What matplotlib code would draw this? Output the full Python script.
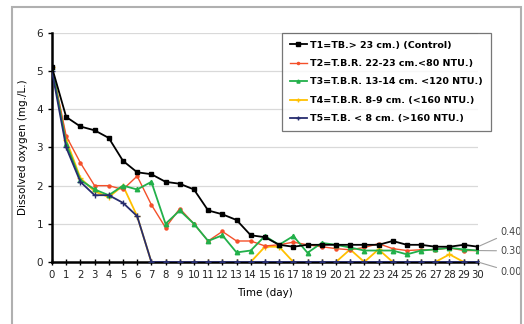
import matplotlib.pyplot as plt
import matplotlib.patches as mpatches
import numpy as np

plt.rcParams['font.family'] = 'DejaVu Sans'

# Days of measurement
days = list(range(31))

# Dissolved oxygen (mg./L.) per treatment
t1 = [5.1, 3.8, 3.55, 3.45, 3.25, 2.65, 2.35, 2.3, 2.1, 2.05, 1.9, 1.35, 1.25, 1.1, 0.7, 0.65,
      0.45, 0.4, 0.45, 0.45, 0.45, 0.45, 0.45, 0.45, 0.55, 0.45, 0.45, 0.4, 0.4, 0.45, 0.4]
t2 = [5.1, 3.3, 2.6, 2.0, 2.0, 1.9, 2.25, 1.5, 0.9, 1.4, 1.0, 0.55, 0.8, 0.55, 0.55, 0.42,
      0.45, 0.52, 0.45, 0.4, 0.35, 0.32, 0.38, 0.48, 0.35, 0.3, 0.32, 0.32, 0.37, 0.3, 0.3]
t3 = [5.1, 3.1, 2.15, 1.9, 1.75, 2.0, 1.9, 2.1, 1.0, 1.35, 1.0, 0.55, 0.7, 0.25, 0.3, 0.68,
      0.45, 0.68, 0.24, 0.5, 0.45, 0.38, 0.3, 0.3, 0.3, 0.2, 0.3, 0.33, 0.37, 0.33, 0.3]
t4 = [5.1, 3.2, 2.2, 1.85, 1.7, 2.0, 1.2, 0, 0, 0, 0, 0, 0, 0, 0, 0.4,
      0.4, 0, 0, 0, 0, 0.33, 0, 0.33, 0, 0, 0, 0, 0.2, 0, 0]
t5 = [5.0, 3.0, 2.1, 1.75, 1.75, 1.55, 1.2, 0, 0, 0, 0, 0, 0, 0, 0, 0,
      0, 0, 0, 0, 0, 0, 0, 0, 0, 0, 0, 0, 0, 0, 0]

labels = ['T1=TB.> 23 cm.) (Control)',
          'T2=T.B.R. 22-23 cm.<80 NTU.)',
          'T3=T.B.R. 13-14 cm. <120 NTU.)',
          'T4=T.B.R. 8-9 cm. (<160 NTU.)',
          'T5=T.B. < 8 cm. (>160 NTU.)']

end_labels = ['0.40', '0.30', '0.00']
end_values = [0.4, 0.3, 0.0]

fig = plt.figure(figsize=(5.24, 3.24), dpi=100, facecolor='white')
ax = fig.add_axes([0.0992, 0.1914, 0.8128, 0.7068])

# outer frame of the chart
fig.patches.append(mpatches.Rectangle((12 / 524, -0.1), 509 / 524, 1.1 - 7 / 324,
                                      transform=fig.transFigure, fill=False,
                                      edgecolor='#b0b0b0', linewidth=1.5))

ax.plot(days, t1, '-s', color='black', lw=1.3, ms=3.2, label=labels[0], zorder=6)
ax.plot(days, t2, '-o', color='#f4502a', lw=1.0, ms=2.2, label=labels[1], zorder=3)
ax.plot(days, t3, '-^', color='#22b04a', lw=1.3, ms=3.2, label=labels[2], zorder=4)
ax.plot(days, t4, '-+', color='#ffc000', lw=1.3, ms=4, mew=1, label=labels[3], zorder=2)
ax.plot(days, t5, '-+', color='#262c6e', lw=1.3, ms=5, mew=1, label=labels[4], zorder=5)

ax.set_xlim(0, 30)
ax.set_ylim(0, 6)
ax.set_xticks(days)
ax.set_yticks(range(7))
ax.tick_params(axis='x', direction='inout', length=5, width=1, labelsize=7.3, pad=3,
               labelcolor='#222222')
ax.tick_params(axis='y', direction='out', length=3, width=1, labelsize=7.5,
               labelcolor='#222222')
ax.grid(axis='y', color='#d9d9d9', lw=0.9)
ax.set_axisbelow(True)
for s in ['top', 'right']:
    ax.spines[s].set_visible(False)
ax.spines['left'].set_linewidth(1.8)
ax.spines['bottom'].set_linewidth(1.8)

ax.set_xlabel('Time (day)', fontsize=7.5, labelpad=6)
ax.set_ylabel('Dissolved oxygen (mg./L.)', fontsize=7.5, labelpad=6)

leg = ax.legend(loc='upper left', bbox_to_anchor=(0.54, 1.0), borderaxespad=0,
                prop={'weight': 'bold', 'size': 6.8}, frameon=True, fancybox=False,
                edgecolor='#555555', handlelength=1.9, borderpad=0.8, labelspacing=1.0,
                handletextpad=0.3, markerscale=0.7)
leg.get_frame().set_linewidth(0.9)

# end value callouts to the right of the plot
text_pos = [(31.6, 0.79), (31.6, 0.29), (31.6, -0.26)]
for lab, v, pos in zip(end_labels, end_values, text_pos):
    ax.annotate(lab, xy=(30, v), xytext=pos, fontsize=7, color='#444444',
                va='center', ha='left', annotation_clip=False,
                arrowprops=dict(arrowstyle='-', color='#a0a0a0', lw=0.8,
                                shrinkA=1, shrinkB=0))

plt.savefig('out.png', dpi=100)
